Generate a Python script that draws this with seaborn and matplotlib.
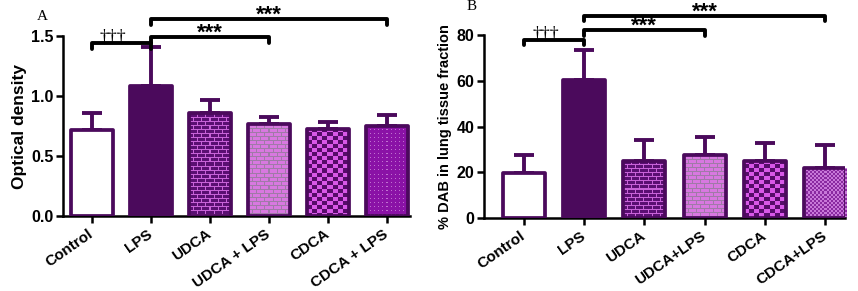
import numpy as np
import pandas as pd
import matplotlib
matplotlib.use("Agg")
import matplotlib.pyplot as plt
import seaborn as sns

# data
cats_a = ["Control", "LPS", "UDCA", "UDCA + LPS", "CDCA", "CDCA + LPS"]
cats_b = ["Control", "LPS", "UDCA", "UDCA+LPS", "CDCA", "CDCA+LPS"]
od_mean = [0.72, 1.085, 0.855, 0.765, 0.725, 0.75]
od_sd = [0.14, 0.32, 0.11, 0.06, 0.055, 0.09]
dab_mean = [19.8, 60.2, 25.0, 27.4, 25.0, 22.0]
dab_sd = [7.6, 13.4, 9.2, 8.1, 7.7, 10.1]

DARK = "#4b0a5c"
fills = ["white", DARK, "#6a1a80", "#d070d8", "#d050e0", "#8c14a8"]
patterns_a = [None, None, "brick_dark", "brick_light", "checker", "dots"]
patterns_b = [None, None, "brick_dark", "brick_light", "checker", "fine"]

sns.set_style("ticks")
plt.rcParams["font.family"] = ["Liberation Sans", "DejaVu Sans"]
for k in ["text.color", "axes.labelcolor", "xtick.color", "ytick.color", "axes.edgecolor"]:
    plt.rcParams[k] = "black"
SERIF = ["Liberation Serif", "DejaVu Serif"]


def rgb(c):
    return np.array(matplotlib.colors.to_rgb(c))


def texture(kind, w, h):
    yy, xx = np.mgrid[0:h, 0:w]
    img = np.zeros((h, w, 3))
    if kind in ("brick_dark", "brick_light"):
        if kind == "brick_dark":
            brick, mortar = rgb("#5a0f72"), rgb("#c862d8")
        else:
            brick, mortar = rgb("#d878e0"), rgb("#a07aa8")
        row = yy // 4
        off = (row % 2) * 4
        m = (yy % 4 == 0) | ((xx + off) % 8 == 0)
        img[:] = brick
        img[m] = mortar
    elif kind == "checker":
        m = ((xx // 5) + (yy // 4)) % 2 == 0
        img[:] = rgb("#560c6a")
        img[m] = rgb("#d858e8")
    elif kind == "dots":
        m = (xx % 4 == 0) & (yy % 4 == 0)
        img[:] = rgb("#8a12a6")
        img[m] = rgb("#c070d0")
    elif kind == "fine":
        m = ((xx // 2) + (yy // 2)) % 2 == 0
        img[:] = rgb("#8a2aa0")
        img[m] = rgb("#c878d8")
    return img


def panel(ax, cats, mean, sd, ylim, yticks, ylabel, ylabel_size, xlim):
    df = pd.DataFrame({"group": cats, "value": mean})
    sns.barplot(data=df, x="group", y="value", hue="group", palette=fills,
                order=cats, width=0.7, legend=False, ax=ax, saturation=1,
                edgecolor=DARK, linewidth=2.7, zorder=3)
    x = np.arange(len(cats))
    ax.errorbar(x, mean, yerr=[np.zeros(len(sd)), sd], fmt="none",
                ecolor=DARK, elinewidth=2.8, capsize=7, capthick=2.8, zorder=2)
    ax.set_xlim(*xlim)
    ax.set_ylim(*ylim)
    ax.set_yticks(yticks)
    ax.set_xlabel("")
    ax.set_ylabel(ylabel, fontsize=ylabel_size, fontweight="bold", labelpad=3)
    for sp in ["top", "right"]:
        ax.spines[sp].set_visible(False)
    for sp in ["left", "bottom"]:
        ax.spines[sp].set_linewidth(1.8)
    ax.tick_params(width=1.8, length=5, labelsize=11.5, pad=2)
    for lab in ax.get_yticklabels():
        lab.set_fontweight("bold")
    ax.set_xticks(x)
    ax.set_xticklabels(cats, rotation=35, ha="right", va="center",
                       rotation_mode="anchor", fontweight="bold", fontsize=11)
    ax.tick_params(axis="x", pad=7)
    for p in ax.patches:
        p.set_joinstyle("round")
    return ax


def add_textures(fig, ax, patterns):
    fig.canvas.draw()
    for p, kind in zip(ax.patches, patterns):
        if kind is None:
            continue
        ext = p.get_window_extent()
        w, h = max(int(ext.width), 1), max(int(ext.height), 1)
        x0, y0 = p.get_x(), p.get_y()
        img = ax.imshow(texture(kind, w, h),
                        extent=[x0, x0 + p.get_width(), y0, y0 + p.get_height()],
                        origin="upper", interpolation="nearest", aspect="auto", zorder=2.5)
        img.set_clip_path(p)
        p.set_facecolor("none")


def bracket(ax, x1, x2, y, drop, text, serif=False):
    ax.plot([x1, x1, x2, x2], [y - drop, y, y, y - drop], color="black",
            lw=2.8, clip_on=False, solid_joinstyle="round", solid_capstyle="round", zorder=5)
    if serif:
        ax.annotate(text, ((x1 + x2) / 2 - 0.14, y), xytext=(0, 1), textcoords="offset points",
                    ha="center", va="baseline", fontsize=13, family=SERIF, annotation_clip=False)
    else:
        ax.annotate(text, ((x1 + x2) / 2, y), xytext=(0, -1.2), textcoords="offset points",
                    ha="center", va="baseline", fontsize=16, fontweight="bold",
                    annotation_clip=False)


fig = plt.figure(figsize=(8.58, 2.91), dpi=100)
ax1 = fig.add_axes([0.0734, 0.2577, 0.4046, 0.6186])
ax2 = fig.add_axes([0.564, 0.251, 0.421, 0.628])

panel(ax1, cats_a, od_mean, od_sd, (0, 1.5), [0, 0.5, 1.0, 1.5],
      "Optical density", 12.5, (-0.49, 5.39))
panel(ax2, cats_b, dab_mean, dab_sd, (0, 80), [0, 20, 40, 60, 80],
      "% DAB in lung tissue fraction", 10.5, (-0.66, 5.33))

add_textures(fig, ax1, patterns_a)
add_textures(fig, ax2, patterns_b)
ax1.set_xlim(-0.49, 5.39)
ax1.set_ylim(0, 1.5)
ax2.set_xlim(-0.66, 5.33)
ax2.set_ylim(0, 80)

bracket(ax1, 0, 1, 1.44, 0.05, "\u2020\u2020\u2020", serif=True)
bracket(ax1, 1, 3, 1.49, 0.05, "***")
bracket(ax1, 1, 5, 1.64, 0.05, "***")
bracket(ax2, 0, 1, 78, 2.5, "\u2020\u2020\u2020", serif=True)
bracket(ax2, 1, 3, 82.3, 2.5, "***")
bracket(ax2, 1, 5, 88.6, 2.5, "***")

fig.text(42 / 858, 1 - 16 / 291, "A", ha="center", va="center", fontsize=11, family=SERIF)
fig.text(472 / 858, 1 - 7 / 291, "B", ha="center", va="center", fontsize=11, family=SERIF)

fig.savefig("out.png", dpi=100)
